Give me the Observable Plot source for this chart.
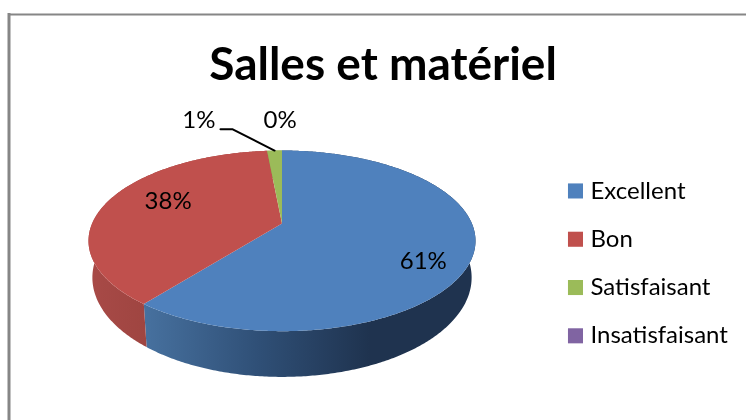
<!DOCTYPE html>
<html lang="fr">
<head>
<meta charset="utf-8">
<title>Salles et matériel</title>
<script src="https://cdn.jsdelivr.net/npm/d3@7"></script>
<script src="https://cdn.jsdelivr.net/npm/@observablehq/plot@0.6"></script>
<style>
  html, body { margin: 0; padding: 0; background: #fff; }
  svg { display: block; filter: blur(0.4px); }
</style>
</head>
<body>
<div id="chart"></div>
<script>
const chartTitle = "Salles et matériel";
const categories = ["Excellent", "Bon", "Satisfaisant", "Insatisfaisant"];
const shares = [60.6, 37.91, 1.49, 0];

const topColors = ["#4f81bd", "#c0504d", "#9bbb59", "#8064a2"];
const wallColors = ["url(#wall0)", "url(#wall1)", "#7d9748", "#674f84"];

// pie look: perspective of the disc and the shape of its lower rim
const tilt = 0.192, rimScaleX = 0.98, rimScaleY = 1.1, rimDrop = 0.402;
// label placement: pie radius, then a nudge in pixels
const labelRadius = [0.75, 0.7, 1.15, 1.15];
const labelDx = [0, 9, -74.7, -1.8];
const labelDy = [15, -6, -21, -21];
// bend of the leader line, in pie units
const leaderBend = [{px: -0.262, py: -1.084}, {px: -0.324, py: -1.084}];

const pieAngles = d3.pie().sort(null).value(d => d)(shares);
function project(theta, r = 1) {
  const u = r * Math.sin(theta), v = -r * Math.cos(theta), w = 1 - tilt * v;
  return {px: u / w, py: v / w};
}
function arc(a0, a1) {
  const n = Math.max(1, Math.ceil((a1 - a0) / 0.01));
  return d3.range(n + 1).map(i => project(a0 + (a1 - a0) * i / n));
}
const rim = p => ({px: p.px * rimScaleX, py: p.py * rimScaleY + rimDrop});

const slices = pieAngles.map((s, i) => {
  const edge = arc(s.startAngle, s.endAngle);
  return {
    i,
    top: [{px: 0, py: 0}, ...edge],
    wall: [...edge, ...edge.map(rim).reverse()],
    mid: (s.startAngle + s.endAngle) / 2
  };
});

const wallGradients = () => {
  const defs = d3.create("svg:defs");
  const add = (id, stops) => {
    const g = defs.append("linearGradient").attr("id", id);
    stops.forEach(([o, c]) => g.append("stop").attr("offset", o).attr("stop-color", c));
  };
  add("wall0", [[0, "#47719f"], [0.35, "#2f4f76"], [0.68, "#1f334f"], [1, "#1f334f"]]);
  add("wall1", [[0, "#a84a47"], [0.32, "#9f4541"], [1, "#9f4541"]]);
  return defs.node();
};

const labels = slices.map((s, i) => ({...project(s.mid, labelRadius[i]), text: Math.round(shares[i]) + "%", i}));
const leader = [project(slices[2].mid), ...leaderBend];

const legendX = 1.5456, legendTextX = 1.6246, legendY = -0.374, legendStep = 0.555;
const legend = categories.map((name, i) => ({name, color: topColors[i], py: legendY + i * legendStep}));

const plot = Plot.plot({
  width: 746,
  height: 420,
  marginLeft: 8.5,
  marginTop: 14,
  marginRight: 0,
  marginBottom: 0,
  x: {domain: [-1.019, 1.019], range: [88, 475], axis: null},
  y: {domain: [-0.839, 1.238], range: [150, 330.7], axis: null},
  style: {fontFamily: "Lato, sans-serif", background: "#fff", overflow: "visible"},
  marks: [
    wallGradients,
    Plot.frame({anchor: "left", stroke: "#868686", strokeWidth: 3}),
    Plot.frame({anchor: "top", stroke: "#868686", strokeWidth: 2}),
    ...slices.filter(s => shares[s.i] > 0).map(s => Plot.line(s.wall, {x: "px", y: "py", fill: wallColors[s.i], stroke: "none"})),
    ...slices.filter(s => shares[s.i] > 0).map(s => Plot.line(s.top, {x: "px", y: "py", fill: topColors[s.i], stroke: "none"})),
    Plot.line(leader, {x: "px", y: "py", stroke: "#000", strokeWidth: 2}),
    Plot.text([chartTitle], {x: 0.532, y: -1.816, text: d => d, fontSize: 46, fontWeight: 700, fill: "#000"}),
    ...labels.map(l => Plot.text([l], {x: "px", y: "py", text: "text", dx: labelDx[l.i], dy: labelDy[l.i], fontSize: 24, fill: "#000"})),
    Plot.dot(legend, {x: legendX, y: "py", symbol: "square", r: 8.5, fill: "color", stroke: "none"}),
    Plot.text(legend, {x: legendTextX, y: "py", text: "name", textAnchor: "start", fontSize: 24, fill: "#000"})
  ]
});
document.getElementById("chart").append(plot);
</script>
</body>
</html>
